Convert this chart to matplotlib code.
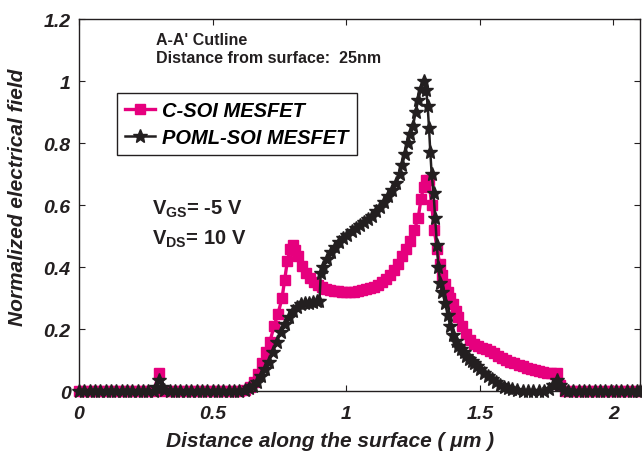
import matplotlib
matplotlib.use("Agg")
import matplotlib.pyplot as plt

plt.rcParams["font.family"] = ["Liberation Sans", "DejaVu Sans"]
plt.rcParams["mathtext.fontset"] = "custom"
plt.rcParams["mathtext.rm"] = "Liberation Sans:bold"
plt.rcParams["mathtext.default"] = "rm"

# C-SOI MESFET (magenta squares)
csoi_x = [0.0, 0.02, 0.04, 0.06, 0.08, 0.10, 0.12, 0.14, 0.16, 0.18, 0.20, 0.22, 0.24, 0.26, 0.28,
          0.30, 0.32, 0.34, 0.36, 0.38, 0.40, 0.42, 0.44, 0.46, 0.48, 0.50, 0.52, 0.54, 0.56, 0.58, 0.60,
          0.62, 0.64, 0.655, 0.67, 0.685, 0.70, 0.715, 0.73, 0.745, 0.76, 0.77, 0.78, 0.79, 0.80,
          0.81, 0.82, 0.835, 0.85, 0.865, 0.88, 0.895, 0.91, 0.925, 0.94, 0.955, 0.97, 0.985, 1.0,
          1.015, 1.03, 1.045, 1.06, 1.075, 1.09, 1.105, 1.12, 1.135, 1.15, 1.165, 1.18, 1.195, 1.21,
          1.225, 1.24, 1.255, 1.27, 1.28, 1.29, 1.30, 1.31, 1.32, 1.33, 1.34, 1.35, 1.36, 1.37, 1.38,
          1.39, 1.40, 1.41, 1.42, 1.435, 1.45, 1.465, 1.48, 1.495, 1.51, 1.525, 1.54, 1.555, 1.57,
          1.585, 1.60, 1.615, 1.63, 1.645, 1.66, 1.675, 1.69, 1.705, 1.72, 1.735, 1.75, 1.765, 1.78,
          1.79, 1.80, 1.82, 1.84, 1.86, 1.88, 1.90, 1.92, 1.94, 1.96, 1.98, 2.00, 2.02, 2.04, 2.06,
          2.08, 2.10]
csoi_y = [0.0, 0.0, 0.0, 0.0, 0.0, 0.0, 0.0, 0.0, 0.0, 0.0, 0.0, 0.0, 0.0, 0.0, 0.0,
          0.06, 0.0, 0.0, 0.0, 0.0, 0.0, 0.0, 0.0, 0.0, 0.0, 0.0, 0.0, 0.0, 0.0, 0.0, 0.0,
          0.005, 0.015, 0.03, 0.055, 0.09, 0.125, 0.16, 0.21, 0.25, 0.30, 0.36, 0.42, 0.46, 0.47,
          0.455, 0.435, 0.405, 0.38, 0.365, 0.352, 0.342, 0.335, 0.33, 0.326, 0.324, 0.322, 0.321, 0.32,
          0.32, 0.321, 0.322, 0.325, 0.328, 0.332, 0.337, 0.343, 0.352, 0.362, 0.375, 0.39, 0.41, 0.435,
          0.46, 0.485, 0.52, 0.56, 0.62, 0.66, 0.68, 0.68, 0.60, 0.52, 0.46, 0.41, 0.375, 0.345, 0.32,
          0.30, 0.28, 0.26, 0.24, 0.21, 0.185, 0.165, 0.152, 0.145, 0.14, 0.135, 0.13, 0.123, 0.115,
          0.108, 0.10, 0.095, 0.09, 0.085, 0.08, 0.075, 0.07, 0.068, 0.065, 0.062, 0.06, 0.058, 0.055,
          0.06, 0.02, 0.0, 0.0, 0.0, 0.0, 0.0, 0.0, 0.0, 0.0, 0.0, 0.0, 0.0, 0.0, 0.0,
          0.0, 0.0]

# POML-SOI MESFET (black stars)
poml_x = [0.0, 0.02, 0.04, 0.06, 0.08, 0.10, 0.12, 0.14, 0.16, 0.18, 0.20, 0.22, 0.24, 0.26, 0.28,
          0.29, 0.30, 0.31, 0.32, 0.34, 0.36, 0.38, 0.40, 0.42, 0.44, 0.46, 0.48, 0.50, 0.52, 0.54,
          0.56, 0.58, 0.60, 0.62, 0.635, 0.65, 0.665, 0.68, 0.695, 0.71, 0.725, 0.74, 0.755, 0.77,
          0.785, 0.80, 0.815, 0.83, 0.845, 0.86, 0.875, 0.89, 0.90, 0.905, 0.915, 0.93, 0.945, 0.96,
          0.975, 0.99, 1.005, 1.02, 1.035, 1.05, 1.065, 1.08, 1.095, 1.11, 1.125, 1.14, 1.155, 1.17,
          1.185, 1.20, 1.21, 1.22, 1.23, 1.24, 1.25, 1.26, 1.27, 1.28, 1.29, 1.30, 1.305, 1.31, 1.315,
          1.32, 1.327, 1.333, 1.34, 1.345, 1.352, 1.36, 1.37, 1.38, 1.39, 1.40, 1.41, 1.42, 1.43,
          1.44, 1.45, 1.46, 1.47, 1.48, 1.49, 1.50, 1.515, 1.53, 1.545, 1.56, 1.575, 1.59, 1.605,
          1.62, 1.64, 1.66, 1.68, 1.70, 1.72, 1.74, 1.76, 1.775, 1.79, 1.80, 1.815, 1.83, 1.85,
          1.87, 1.89, 1.91, 1.93, 1.95, 1.97, 1.99, 2.01, 2.03, 2.05, 2.07, 2.09, 2.10]
poml_y = [0.0, 0.0, 0.0, 0.0, 0.0, 0.0, 0.0, 0.0, 0.0, 0.0, 0.0, 0.0, 0.0, 0.0, 0.0,
          0.015, 0.035, 0.015, 0.005, 0.0, 0.0, 0.0, 0.0, 0.0, 0.0, 0.0, 0.0, 0.0, 0.0, 0.0,
          0.0, 0.0, 0.0, 0.005, 0.01, 0.018, 0.03, 0.05, 0.07, 0.095, 0.125, 0.16, 0.19, 0.215,
          0.24, 0.26, 0.273, 0.28, 0.283, 0.285, 0.288, 0.29, 0.29, 0.38, 0.40, 0.425, 0.45, 0.465,
          0.48, 0.495, 0.505, 0.515, 0.525, 0.535, 0.545, 0.555, 0.565, 0.58, 0.595, 0.61, 0.63, 0.65,
          0.67, 0.70, 0.73, 0.765, 0.80, 0.83, 0.855, 0.90, 0.94, 0.975, 1.0, 0.97, 0.92, 0.85, 0.77,
          0.70, 0.64, 0.56, 0.47, 0.40, 0.35, 0.32, 0.285, 0.245, 0.21, 0.18, 0.162, 0.145, 0.135,
          0.125, 0.115, 0.105, 0.097, 0.09, 0.08, 0.07, 0.06, 0.05, 0.04, 0.03, 0.02, 0.015, 0.01,
          0.007, 0.004, 0.0, 0.0, 0.0, 0.0, 0.002, 0.008, 0.02, 0.035, 0.02, 0.005, 0.0, 0.0,
          0.0, 0.0, 0.0, 0.0, 0.0, 0.0, 0.0, 0.0, 0.0, 0.0, 0.0, 0.0, 0.0]

x_ticks = [0, 0.5, 1, 1.5, 2]
x_tick_labels = ["0", "0.5", "1", "1.5", "2"]
y_ticks = [0, 0.2, 0.4, 0.6, 0.8, 1.0, 1.2]
y_tick_labels = ["0", "0.2", "0.4", "0.6", "0.8", "1", "1.2"]

pink = "#e6007e"
dark = "#231f20"

fig = plt.figure(figsize=(6.42, 4.56), dpi=100)
ax = fig.add_axes([0.123, 0.140, 0.874, 0.816])

ax.plot(csoi_x, csoi_y, color=pink, lw=2.4, marker="s", ms=7.5, mec=pink, mfc=pink,
        clip_on=False, label="C-SOI MESFET", zorder=2)
ax.plot(poml_x, poml_y, color=dark, lw=1.8, marker="*", ms=10, mec=dark, mfc=dark,
        clip_on=False, label="POML-SOI MESFET", zorder=3)

ax.set_xlim(0, 2.1)
ax.set_ylim(0, 1.2)
ax.set_xticks(x_ticks)
ax.set_xticklabels(x_tick_labels)
ax.set_yticks(y_ticks)
ax.set_yticklabels(y_tick_labels)
ax.tick_params(direction="in", length=4, width=0.8, top=True, right=True,
               labelsize=14, color=dark)
ax.tick_params(axis="x", pad=10)
ax.tick_params(axis="y", pad=6)
for lab in ax.get_xticklabels() + ax.get_yticklabels():
    lab.set_fontweight("bold")
    lab.set_fontstyle("italic")
    lab.set_color(dark)
for sp in ax.spines.values():
    sp.set_linewidth(1.0)
    sp.set_color(dark)

ax.set_xlabel("Distance along the surface ( \u03bcm )", fontsize=15, fontweight="bold",
              fontstyle="italic", color=dark)
ax.xaxis.set_label_coords(0.447, -0.108)
ax.set_ylabel("Normalized electrical field", fontsize=15, fontweight="bold",
              fontstyle="italic", color=dark)
ax.yaxis.set_label_coords(-0.093, 0.524)

ax.text(0.29, 1.135, "A-A' Cutline", fontsize=11.5, fontweight="bold", color=dark, va="center")
ax.text(0.29, 1.077, "Distance from surface:  25nm", fontsize=11.5, fontweight="bold",
        color=dark, va="center")
ax.text(0.273, 0.571, r"V$_{GS}$= -5 V", fontsize=14.5, fontweight="bold", color=dark,
        va="baseline")
ax.text(0.273, 0.477, r"V$_{DS}$= 10 V", fontsize=14.5, fontweight="bold", color=dark,
        va="baseline")

leg = ax.legend(loc="upper left", bbox_to_anchor=(0.068, 0.801), fancybox=False,
                edgecolor=dark, framealpha=1, handlelength=1.5, handletextpad=0.35,
                borderpad=0.4, labelspacing=0.4, borderaxespad=0,
                prop={"size": 14.5, "weight": "bold", "style": "italic"})
leg.get_frame().set_linewidth(1.0)

fig.savefig("out.png", dpi=100)
